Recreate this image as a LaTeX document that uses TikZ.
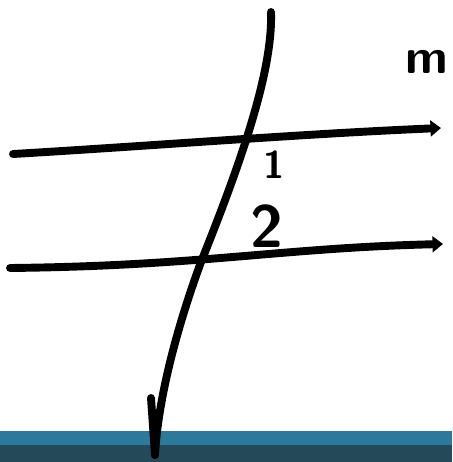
\documentclass[tikz,border=0pt]{standalone}
\usepackage{tikz}
\usetikzlibrary{arrows.meta}
\definecolor{barBlue}{HTML}{2B7A9C}
\definecolor{barDark}{HTML}{244A5A}

\begin{document}
\begin{tikzpicture}[x=0.02cm, y=-0.02cm, line width=4.5pt, line cap=round, line join=round]
  \useasboundingbox (0,0) rectangle (452,462);
  % bottom bars
  \fill[barBlue] (0,431) rectangle (452,445);
  \fill[barDark] (0,445) rectangle (452,462);

  % parallel lines
  \coordinate (mL) at (13,154);
  \coordinate (mR) at (441,128);
  \coordinate (nL) at (10,268);
  \coordinate (nR) at (443,244);
  \draw[-{Triangle[length=6pt,width=9pt]}] (mL) .. controls (150,146) and (300,134) .. (mR);
  \draw[-{Triangle[length=6pt,width=9pt]}] (nL) .. controls (200,266) and (280,248) .. (nR);

  % transversal
  \coordinate (tTop) at (271,12);
  \coordinate (tBot) at (155,455);
  \coordinate (tBarb) at (151,398);
  \draw (tTop) .. controls (273,70) and (242,160) .. (201,262)
        .. controls (176,330) and (158,400) .. (tBot);
  \draw (tBot) -- (tBarb);

  % labels
  \node[font=\sffamily\bfseries\fontsize{22}{22}\selectfont] (ang1) at (274,165) {1};
  \node[font=\sffamily\bfseries\fontsize{34}{34}\selectfont] (ang2) at (267,226) {2};
  \node[font=\sffamily\bfseries\fontsize{28}{28}\selectfont, anchor=west, inner sep=1pt] (lblM) at (400,62) {m};
\end{tikzpicture}
\end{document}
